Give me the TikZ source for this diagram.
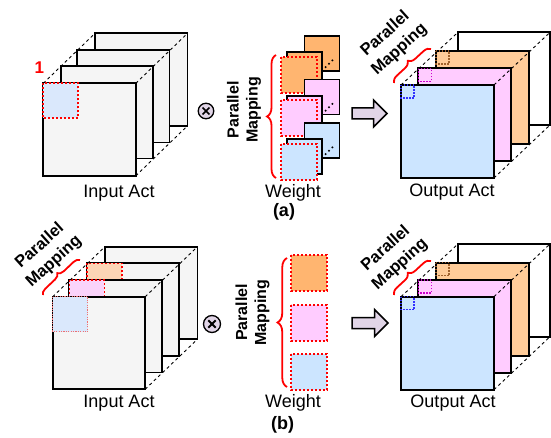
\documentclass[tikz,border=0pt]{standalone}
\usepackage{fontspec}
\setmainfont{Liberation Sans}
\usetikzlibrary{decorations.pathreplacing,calc}
\definecolor{sqgray}{HTML}{F5F5F5}
\definecolor{wblue}{HTML}{CCE5FF}
\definecolor{pblue}{HTML}{DAE8FC}
\definecolor{wpink}{HTML}{FFCCFF}
\definecolor{ppink}{HTML}{FAD3FA}
\definecolor{worange}{HTML}{FFB570}
\definecolor{oorange}{HTML}{FFCC99}
\definecolor{porange}{HTML}{FCD5B5}
\definecolor{lilac}{HTML}{E1D5E7}
\definecolor{dotblue}{HTML}{3333FF}
\definecolor{dotpurple}{HTML}{CC00CC}
\definecolor{dotbrown}{HTML}{A0622D}
\definecolor{lightred}{HTML}{F07070}
\begin{document}
\begin{tikzpicture}[x=1pt,y=-1pt,
  sq/.style={draw=black, line width=1.8pt, fill=#1},
  sq/.default=sqgray,
  wsq/.style={draw=black, line width=1.6pt, fill=#1},
  dashln/.style={line width=0.9pt, dash pattern=on 3pt off 3pt},
  reddot/.style={draw=red, line width=2pt, dash pattern=on 2pt off 2pt, fill=#1},
  smalldot/.style={draw=#1, line width=1.4pt, dash pattern=on 1.5pt off 1.5pt},
  brc/.style={decorate, decoration={brace, amplitude=#1}, draw=red, line width=1.8pt},
  lbl/.style={font=\fontsize{18}{21}\selectfont, inner sep=0pt},
  pm/.style={font=\fontsize{16}{19}\selectfont\bfseries, align=center, inner sep=0pt},
  pmr/.style={font=\fontsize{16.5}{21}\selectfont\bfseries, align=center, inner sep=0pt, rotate=42},
  opnode/.style={circle, draw=black, line width=1.3pt, fill=lilac, inner sep=0pt, minimum size=#1},
  bigarrow/.style={draw=black, line width=1.5pt, fill=lilac, line join=miter}
]
\useasboundingbox (0,0) rectangle (551,438);

% ================= (a) =================
% Input Act (a)
\draw[sq] (95,33.3) rectangle ++(92.5,92.5);
\draw[sq] (77,50) rectangle ++(92.5,92.5);
\draw[sq] (60.7,66) rectangle ++(92.5,92.5);
\draw[sq] (43.3,83.3) rectangle ++(92.5,92.5);
\draw[reddot=pblue] (43.3,83.3) rectangle ++(35,35);
\coordinate (ia-ftl) at (43.3,83.3);
\coordinate (ia-btl) at (95,33.3);
\coordinate (ia-ftr) at (135.8,83.3);
\coordinate (ia-btr) at (187.5,33.3);
\coordinate (ia-fbr) at (135.8,175.8);
\coordinate (ia-bbr) at (187.5,125.8);
\draw[dashln] (ia-ftl) -- (ia-btl);
\draw[dashln] (ia-ftr) -- (ia-btr);
\draw[dashln] (ia-fbr) -- (ia-bbr);
\node[font=\fontsize{17}{20}\selectfont\bfseries, text=red, inner sep=0pt] (one) at (39.3,68) {1};
\node[lbl] (inA) at (119,193) {Input Act};

% operator (a)
\node[opnode=15.5pt] (opA) at (206,111) {};
\draw[line width=1.7pt] ($(opA.center)+(-3.4,-3.4)$) -- ($(opA.center)+(3.4,3.4)$);
\draw[line width=1.7pt] ($(opA.center)+(-3.4,3.4)$) -- ($(opA.center)+(3.4,-3.4)$);

% Weight (a)
\foreach \dy/\col in {0/worange, 43.5/wpink, 87/wblue} {
  \draw[wsq=\col] (304.3,36+\dy) rectangle ++(35,35);
  \fill (325.6,67.2+\dy) circle (1.1) (329,63.8+\dy) circle (1.1) (332.4,60.4+\dy) circle (1.1);
  \draw[wsq=\col] (286.7,52.3+\dy) rectangle ++(35,35);
  \draw[reddot=\col] (280.7,57+\dy) rectangle ++(36,36);
}
\coordinate (braA1) at (276,178);
\coordinate (braA2) at (276,55);
\draw[brc=9pt] (braA1) -- (braA2);
\node[pm, rotate=90] (pmA) at (244,110) {Parallel\\Mapping};
\node[lbl] (wA) at (293,193) {Weight};
\node[lbl, font=\fontsize{18}{21}\selectfont\bfseries] (capA) at (284,212) {(a)};

% arrow (a)
\draw[bigarrow] (352,108) -- (373.5,108) -- (373.5,100) -- (387,113.5) -- (373.5,127) -- (373.5,119) -- (352,119) -- cycle;

% Output Act (a)
\draw[sq=white] (458,32.3) rectangle (550,125);
\draw[sq=oorange] (436,51) rectangle ++(93,93);
\draw[smalldot=dotbrown] (436,51) rectangle ++(13,13);
\draw[sq=wpink] (418.3,68.3) rectangle ++(93,93);
\draw[smalldot=dotpurple] (418.3,68.3) rectangle ++(13,13);
\draw[sq=wblue] (401,85) rectangle ++(93,93);
\draw[smalldot=dotblue] (401,85) rectangle ++(13,13);
\coordinate (oa-ftl) at (401,85);
\coordinate (oa-btl) at (458,32.3);
\coordinate (oa-ftr) at (494,85);
\coordinate (oa-btr) at (550,32.3);
\coordinate (oa-fbr) at (494,178);
\coordinate (oa-bbr) at (550,125);
\draw[dashln] (oa-ftl) -- (oa-btl);
\draw[dashln] (oa-ftr) -- (oa-btr);
\draw[dashln] (oa-fbr) -- (oa-bbr);
\coordinate (braO1) at (394,83);
\coordinate (braO2) at (431,49);
\draw[brc=7pt] (braO1) -- (braO2);
\node[pmr] (pmOA) at (392.5,42) {Parallel\\Mapping};
\node[lbl] (outA) at (452,192) {Output Act};

% ================= (b) =================
% Input Act (b)
\draw[sq] (105,246.7) rectangle ++(92.5,92.5);
\draw[sq] (86.7,263.3) rectangle ++(92.5,92.5);
\draw[reddot=porange, line width=1.6pt] (86.7,263.3) rectangle ++(35,35);
\draw[sq] (69.3,280) rectangle ++(92.5,92.5);
\draw[reddot=ppink, line width=1.6pt] (69.3,280) rectangle ++(35,35);
\draw[sq] (52.7,296.7) rectangle ++(92.5,92.5);
\draw[reddot=pblue, draw=lightred, line width=1pt, dash pattern=on 1.2pt off 1.2pt] (52.7,296.7) rectangle ++(35,35);
\coordinate (ib-ftl) at (52.7,296.7);
\coordinate (ib-btl) at (105,246.7);
\coordinate (ib-ftr) at (145.2,296.7);
\coordinate (ib-btr) at (197.5,246.7);
\coordinate (ib-fbr) at (145.2,389.2);
\coordinate (ib-bbr) at (197.5,339.2);
\draw[dashln] (ib-ftl) -- (ib-btl);
\draw[dashln] (ib-ftr) -- (ib-btr);
\draw[dashln] (ib-fbr) -- (ib-bbr);
\coordinate (braI1) at (43,295);
\coordinate (braI2) at (80,260);
\draw[brc=6pt] (braI1) -- (braI2);
\node[pmr] (pmIB) at (47,254) {Parallel\\Mapping};
\node[lbl] (inB) at (119,403) {Input Act};

% operator (b)
\node[opnode=17pt] (opB) at (212,324) {};
\draw[line width=1.8pt] ($(opB.center)+(-3.7,-3.7)$) -- ($(opB.center)+(3.7,3.7)$);
\draw[line width=1.8pt] ($(opB.center)+(-3.7,3.7)$) -- ($(opB.center)+(3.7,-3.7)$);

% Weight (b)
\draw[reddot=worange] (291,255) rectangle ++(36,36);
\draw[reddot=wpink] (291,304.5) rectangle ++(36,36);
\draw[reddot=wblue] (291,354) rectangle ++(36,36);
\coordinate (braB1) at (287,387);
\coordinate (braB2) at (287,258);
\draw[brc=9.5pt] (braB1) -- (braB2);
\node[pm, rotate=90] (pmB) at (252.5,312.5) {Parallel\\Mapping};
\node[lbl] (wB) at (293,403) {Weight};
\node[lbl, font=\fontsize{18}{21}\selectfont\bfseries] (capB) at (282.5,425) {(b)};

% arrow (b)
\draw[bigarrow] (352,317.5) -- (374.5,317.5) -- (374.5,309.5) -- (388,323) -- (374.5,336.5) -- (374.5,328.5) -- (352,328.5) -- cycle;

% Output Act (b)
\draw[sq=white] (458,244) rectangle (550,336.7);
\draw[sq=oorange] (436,262.7) rectangle ++(93,93);
\draw[smalldot=dotbrown] (436,262.7) rectangle ++(13,13);
\draw[sq=wpink] (418.3,280) rectangle ++(93,93);
\draw[smalldot=dotpurple] (418.3,280) rectangle ++(13,13);
\draw[sq=wblue] (401,296.7) rectangle ++(93,93);
\draw[smalldot=dotblue] (401,296.7) rectangle ++(13,13);
\coordinate (ob-ftl) at (401,296.7);
\coordinate (ob-btl) at (458,244);
\coordinate (ob-ftr) at (494,296.7);
\coordinate (ob-btr) at (550,244);
\coordinate (ob-fbr) at (494,389.7);
\coordinate (ob-bbr) at (550,336.7);
\draw[dashln] (ob-ftl) -- (ob-btl);
\draw[dashln] (ob-ftr) -- (ob-btr);
\draw[dashln] (ob-fbr) -- (ob-bbr);
\coordinate (braP1) at (394,295);
\coordinate (braP2) at (431,261);
\draw[brc=7pt] (braP1) -- (braP2);
\node[pmr] (pmOB) at (393,256.5) {Parallel\\Mapping};
\node[lbl] (outB) at (453,403) {Output Act};
\end{tikzpicture}
\end{document}
